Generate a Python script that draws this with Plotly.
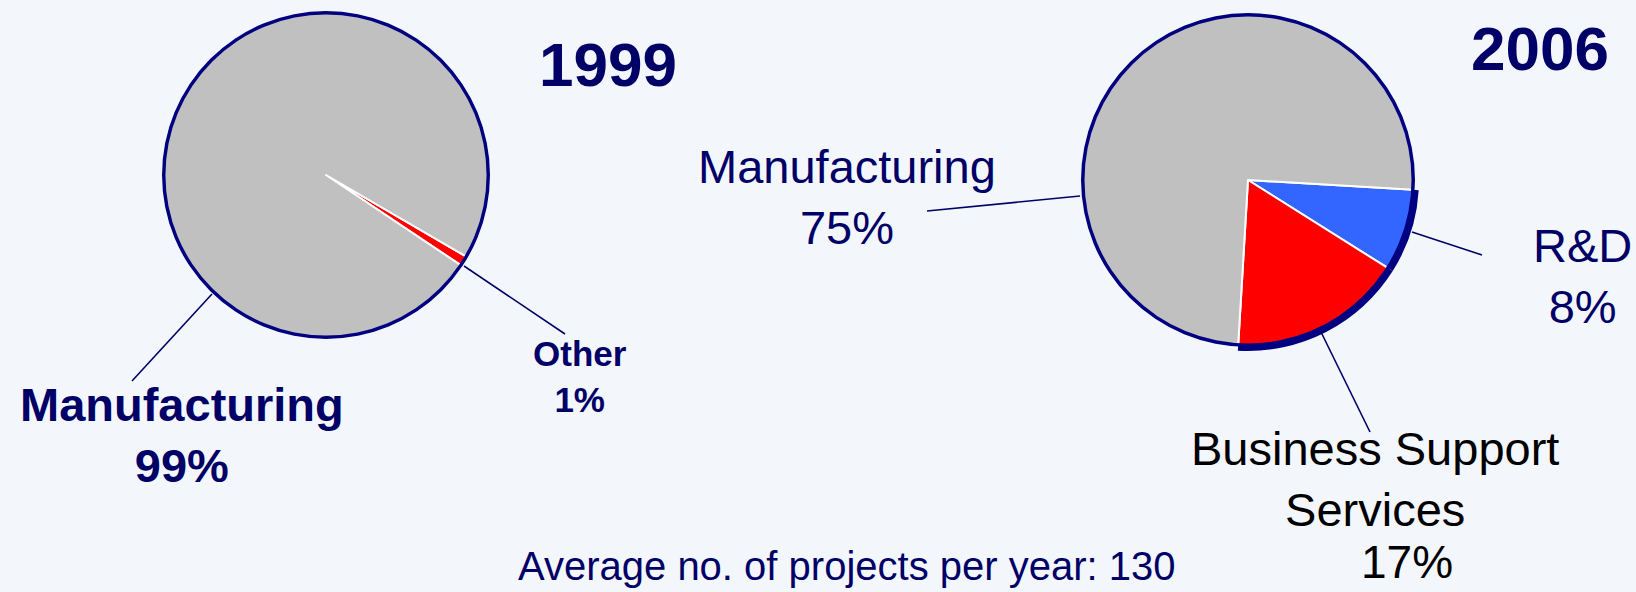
import plotly.graph_objects as go

# ---------------- data ----------------
labels_1999 = ["Other", "Manufacturing"]
values_1999 = [1, 99]
colors_1999 = ["#FF0000", "#C0C0C0"]

labels_2006 = ["R&D", "Business Support Services", "Manufacturing"]
values_2006 = [8, 17, 75]
colors_2006 = ["#3366FF", "#FF0000", "#C0C0C0"]

year_titles = ["1999", "2006"]
footnote = "Average no. of projects per year: 130"

# ---------------- layout constants ----------------
W, H = 1636, 592
NAVY = "#000066"
RIM = "#000080"
FONT = "Arial, 'Liberation Sans', sans-serif"


def px(x):
    return x / W


def py(y):
    return 1 - y / H


def dom(cx, cy, r):
    return dict(x=[px(cx - r), px(cx + r)], y=[py(cy + r), py(cy - r)])


fig = go.Figure()

# 1999 pie
c1 = (326, 175, 163)
fig.add_trace(go.Pie(labels=labels_1999, values=values_1999, sort=False,
                     direction="clockwise", rotation=120.2,
                     marker=dict(colors=colors_1999, line=dict(color="white", width=2)),
                     textinfo="none", hoverinfo="label+percent",
                     domain=dom(*c1), showlegend=False))
fig.add_trace(go.Pie(values=[1], hole=(c1[2] - 2.5) / (c1[2] + 1), sort=False,
                     marker=dict(colors=[RIM], line=dict(width=0)),
                     textinfo="none", hoverinfo="skip",
                     domain=dom(c1[0], c1[1], c1[2] + 1), showlegend=False))

# 2006 pie
c2 = (1248, 180, 166)
fig.add_trace(go.Pie(labels=labels_2006, values=values_2006, sort=False,
                     direction="clockwise", rotation=93.4,
                     marker=dict(colors=colors_2006, line=dict(color="white", width=2)),
                     textinfo="none", hoverinfo="label+percent",
                     domain=dom(*c2), showlegend=False))
fig.add_trace(go.Pie(values=[1], hole=(c2[2] - 2.5) / (c2[2] + 1), sort=False,
                     marker=dict(colors=[RIM], line=dict(width=0)),
                     textinfo="none", hoverinfo="skip",
                     domain=dom(c2[0], c2[1], c2[2] + 1), showlegend=False))
# thicker rim under the highlighted slices
fig.add_trace(go.Pie(values=values_2006, hole=(c2[2] - 1) / (c2[2] + 5), sort=False,
                     direction="clockwise", rotation=93.4,
                     marker=dict(colors=[RIM, RIM, "rgba(0,0,0,0)"], line=dict(width=0)),
                     textinfo="none", hoverinfo="skip",
                     domain=dom(c2[0], c2[1], c2[2] + 5), showlegend=False))

# ---------------- leader lines ----------------
leaders = [
    ((212, 294), (132, 381)),
    ((464, 266), (565, 334)),
    ((1080, 196), (927, 211)),
    ((1412, 232), (1482, 255)),
    ((1321, 332), (1370, 432)),
]
for (x0, y0), (x1, y1) in leaders:
    fig.add_shape(type="line", xref="paper", yref="paper",
                  x0=px(x0), y0=py(y0), x1=px(x1), y1=py(y1),
                  line=dict(color=NAVY, width=1.6))

# ---------------- text ----------------
def note(text, x, y, size, color=NAVY, bold=False):
    if bold:
        text = "<b>" + text + "</b>"
    fig.add_annotation(text=text, x=px(x), y=py(y), xref="paper", yref="paper",
                       xanchor="center", yanchor="middle", showarrow=False,
                       align="center", font=dict(family=FONT, size=size, color=color))


note(year_titles[0], 608, 64, 62, bold=True)
note(year_titles[1], 1540, 48, 62, bold=True)
note(f"{labels_1999[1]}<br>{values_1999[1]}%", 182, 435, 47, bold=True)
note(f"{labels_1999[0]}<br>{values_1999[0]}%", 580, 376, 35, bold=True)
note(f"{labels_2006[2]}<br>{values_2006[2]}%", 847, 197, 47)
note(f"{labels_2006[0]}<br>{values_2006[0]}%", 1582, 276, 47)
note("Business Support<br>Services", 1375, 479, 47, color="black")
note(f"{values_2006[1]}%", 1407, 562, 46, color="black")
note(footnote, 846, 566, 40)

fig.update_layout(width=W, height=H, margin=dict(l=0, r=0, t=0, b=0),
                  paper_bgcolor="#f3f7fc", plot_bgcolor="#f3f7fc")

fig.write_html("out.html", config={"displayModeBar": False},
               post_script="document.body.style.margin='0px';"
                           "document.body.style.overflow='hidden';"
                           "document.body.style.background='#f3f7fc';")
